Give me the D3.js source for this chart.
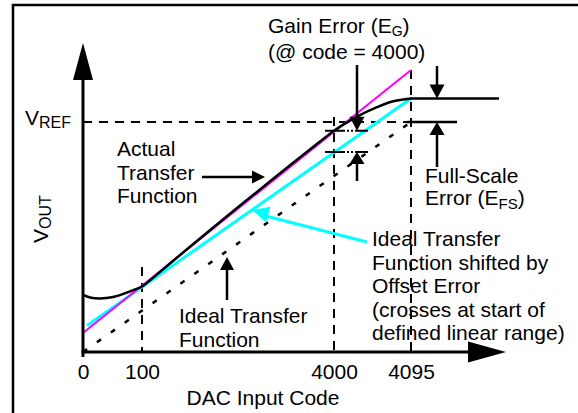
<!DOCTYPE html>
<html><head><meta charset="utf-8">
<script src="https://cdn.jsdelivr.net/npm/d3@7"></script>
<style>
html,body{margin:0;padding:0;background:#fff;}
svg{display:block;font-family:"Liberation Sans",Arial,Helvetica,sans-serif;}
</style></head>
<body>
<svg id="chart" width="578" height="413"></svg>
<script>
// ---- data (DAC codes and output voltage normalised to VREF = 1) ----
const codeTicks = [0, 100, 4000, 4095];
const vref = 1;
const idealCode = [0, 4095];
const idealV = [0, 1];
const gainCode = [0, 4095];
const gainV = [0.083, 1.226];
const offsetCode = [7, 4095];
const offsetV = [0.115, 1.102];
const actualCode = [0, 12, 29, 51, 73, 88, 100, 364, 669, 2192, 3716, 4000, 4015, 4032, 4051, 4072, 4095];
const actualV = [0.248, 0.237, 0.233, 0.239, 0.257, 0.272, 0.285, 0.330, 0.385, 0.654, 0.915, 0.962, 0.996, 1.030, 1.061, 1.089, 1.102];

const svg = d3.select("#chart");
const FS = 21;

// schematic (piecewise) x scale and linear y scale
const x = d3.scaleLinear().domain(codeTicks).range([83, 142, 334, 411]);
const y = d3.scaleLinear().domain([0, vref]).range([352, 122]);

const zip = (a, b) => a.map((c, i) => ({c, v: b[i]}));
const line = d3.line().x(d => x(d.c)).y(d => y(d.v));
const curve = d3.line().x(d => x(d.c)).y(d => y(d.v)).curve(d3.curveCatmullRom.alpha(0.5));

// frame
svg.append("rect").attr("x", 13).attr("y", 5).attr("width", 620).attr("height", 520)
  .attr("fill", "none").attr("stroke", "#000").attr("stroke-width", 2.5);

// dashed reference lines
const dash = "9,7";
svg.append("line").attr("x1", x(0)).attr("x2", x(4095)).attr("y1", y(vref)).attr("y2", y(vref))
  .attr("stroke", "#000").attr("stroke-width", 2).attr("stroke-dasharray", dash);
[[100, 267], [4000, 117], [4095, 70]].forEach(([c, top]) => {
  svg.append("line").attr("x1", x(c)).attr("x2", x(c)).attr("y1", top).attr("y2", y(0))
    .attr("stroke", "#000").attr("stroke-width", 2).attr("stroke-dasharray", dash);
});

// ideal transfer (dotted)
svg.append("path").datum(zip(idealCode, idealV)).attr("d", line)
  .attr("fill", "none").attr("stroke", "#000").attr("stroke-width", 2.5).attr("stroke-dasharray", "5,12");
// offset-shifted ideal (cyan)
svg.append("path").datum(zip(offsetCode, offsetV)).attr("d", line)
  .attr("fill", "none").attr("stroke", "#00ffff").attr("stroke-width", 3);
// gain line (magenta)
svg.append("path").datum(zip(gainCode, gainV)).attr("d", line)
  .attr("fill", "none").attr("stroke", "#ff00ff").attr("stroke-width", 2);
// actual transfer
svg.append("path").datum(zip(actualCode, actualV)).attr("d", curve)
  .attr("fill", "none").attr("stroke", "#000").attr("stroke-width", 2.5);

// axes with arrowheads
svg.append("line").attr("x1", 83).attr("x2", 83).attr("y1", 357).attr("y2", 70)
  .attr("stroke", "#000").attr("stroke-width", 3);
svg.append("polygon").attr("points", "83,43 73,80 93,80").attr("fill", "#000");
svg.append("line").attr("x1", 81.5).attr("x2", 480).attr("y1", 352).attr("y2", 352)
  .attr("stroke", "#000").attr("stroke-width", 3);
svg.append("polygon").attr("points", "506,352 468,341.5 468,362.5").attr("fill", "#000");

// x axis tick labels through d3 axis
const ax = svg.append("g").attr("transform", "translate(0,352)")
  .call(d3.axisBottom(x).tickValues(codeTicks).tickSize(0).tickPadding(12).tickFormat(d3.format("d")));
ax.select(".domain").remove();
ax.selectAll("text").attr("font-size", FS).attr("font-family", "Liberation Sans, Arial, sans-serif").attr("fill", "#000");

function txt(xp, yp, parts, anchor) {
  const t = svg.append("text").attr("x", xp).attr("y", yp).attr("font-size", FS).attr("fill", "#000");
  if (anchor) t.attr("text-anchor", anchor);
  parts.forEach(p => {
    if (typeof p === "string") t.append("tspan").text(p);
    else { t.append("tspan").attr("font-size", p.fs || 15).attr("dy", p.dy).text(p.t); }
  });
  return t;
}

txt(263, 405, ["DAC Input Code"], "middle");
txt(25, 125, ["V", {t: "REF", dy: 3, fs: 16}]);
// VOUT rotated
svg.append("text").attr("transform", "translate(48,243) rotate(-90)").attr("font-size", FS)
  .call(t => { t.append("tspan").text("V"); t.append("tspan").attr("font-size", 16).attr("dy", 3).text("OUT"); });

txt(268, 33, ["Gain Error (E", {t: "G", dy: 3, fs: 14}, {t: ")", dy: -3, fs: FS}]);
txt(268, 59, ["(@ code = 4000)"]);

txt(117, 156, ["Actual"]);
txt(117, 180, ["Transfer"]);
txt(117, 203, ["Function"]);

txt(179, 323, ["Ideal Transfer"]);
txt(179, 347, ["Function"]);

["Ideal Transfer", "Function shifted by", "Offset Error", "(crosses at start of", "defined linear range)"]
  .forEach((s, i) => txt(372, 246 + i * 23.5, [s]));

txt(425, 183, ["Full-Scale"]);
txt(425, 205, ["Error (E", {t: "FS", dy: 4}, {t: ")", dy: -4, fs: FS}]);

// arrows
function seg(x1, y1, x2, y2, col, w) {
  svg.append("line").attr("x1", x1).attr("y1", y1).attr("x2", x2).attr("y2", y2)
    .attr("stroke", col || "#000").attr("stroke-width", w || 2.5);
}
function head(tx, ty, ang, len, hw, col) {
  const bx = tx - len * Math.cos(ang), by = ty - len * Math.sin(ang);
  const px = -Math.sin(ang) * hw, py = Math.cos(ang) * hw;
  svg.append("polygon").attr("points", `${tx},${ty} ${bx + px},${by + py} ${bx - px},${by - py}`)
    .attr("fill", col || "#000");
}
// Actual transfer arrow
seg(202, 177, 255, 177); head(265, 177, 0, 13, 6.5);
// Ideal transfer arrow
seg(227, 300, 227, 268); head(227, 257, -Math.PI / 2, 13, 7);
// Cyan arrow
const ca = Math.atan2(210 - 242, 252 - 367);
seg(367, 242, 262, 215, "#00ffff", 3); head(252, 210, ca, 17, 8, "#00ffff");

// Gain error markers at code 4000
const yAct = y(actualV[actualCode.indexOf(4000)]);
const yOff = 152;
svg.append("line").attr("x1", 325).attr("x2", 368).attr("y1", yAct).attr("y2", yAct)
  .attr("stroke", "#000").attr("stroke-width", 2).attr("stroke-dasharray", "20,2,2,2,2,2,40");
svg.append("line").attr("x1", 325).attr("x2", 368).attr("y1", yOff).attr("y2", yOff)
  .attr("stroke", "#000").attr("stroke-width", 2).attr("stroke-dasharray", "20,2,2,2,2,2,40");
seg(357, 65, 357, 122); head(357, yAct, Math.PI / 2, 14, 7.5);
seg(357, 181, 357, yOff + 10); head(357, yOff, -Math.PI / 2, 12, 7.5);

// Full-scale error markers
const yFS = y(offsetV[1]);
seg(x(4095), yFS, 499, yFS);
seg(407, y(vref), 457, y(vref));
seg(437, 66, 437, 90); head(437, yFS, Math.PI / 2, 14, 7.5);
seg(437, 167, 437, 130); head(437, y(vref), -Math.PI / 2, 13, 7.5);
</script>
</body></html>
